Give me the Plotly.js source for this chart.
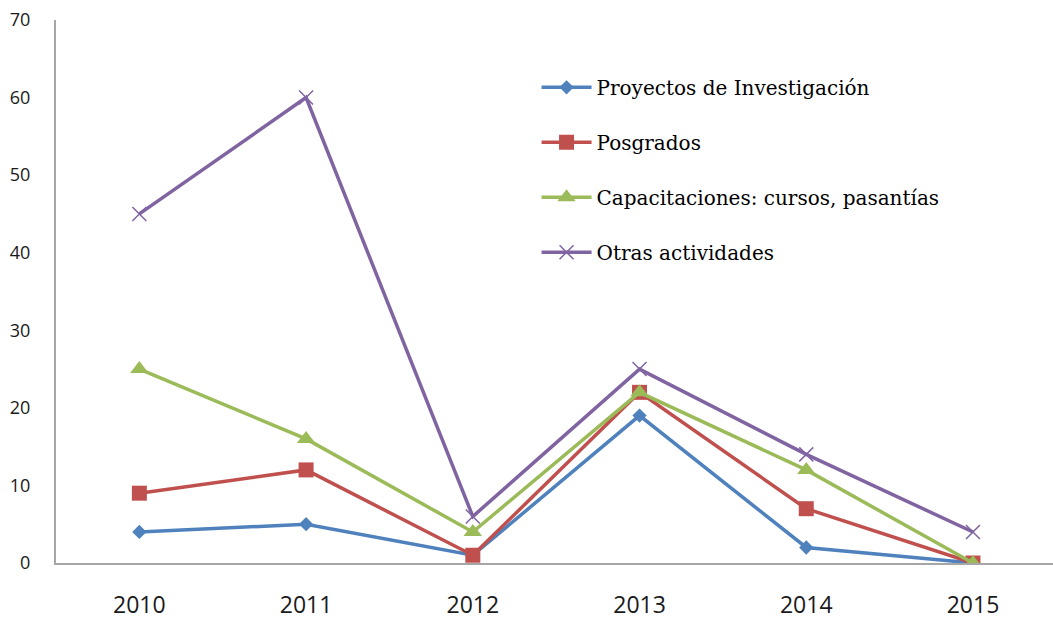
<!DOCTYPE html>
<html><head><meta charset="utf-8">
<script src="https://cdn.plot.ly/plotly-3.0.1.min.js"></script>
<style>html,body{margin:0;padding:0;background:#fff}#chart{width:1053px;height:638px}</style>
</head><body><div id="chart"></div>
<script>
const years = ['2010','2011','2012','2013','2014','2015'];
const proyectos = [4, 5, 1, 19, 2, 0];
const posgrados = [9, 12, 1, 22, 7, 0];
const capacitaciones = [25, 16, 4, 22, 12, 0];
const otras = [45, 60, 6, 25, 14, 4];
const names = ['Proyectos de Investigación','Posgrados','Capacitaciones: cursos, pasantías','Otras actividades'];
const colors = ['#4F81BD','#C0504D','#9BBB59','#8064A2'];
const symbols = ['diamond','square','triangle-up','x-thin-open'];
const sizes = [11, 15, 16, 14];
const series = [proyectos, posgrados, capacitaciones, otras];

const traces = series.map((s, i) => ({
  x: years, y: s, type: 'scatter', mode: 'lines+markers', name: names[i],
  legendgroup: 'g' + i,
  line: {color: colors[i], width: 3.5},
  marker: {symbol: symbols[i], size: sizes[i], color: colors[i], line: {color: colors[i], width: i === 3 ? 1.5 : 0}}
}));

const layout = {
  width: 1053, height: 638,
  margin: {l: 56, r: 0, t: 20, b: 75},
  paper_bgcolor: '#fff', plot_bgcolor: '#fff',
  showlegend: true,
  legend: {x: 0.482, y: 0.912, xanchor: 'left', yanchor: 'top', tracegroupgap: 26, itemwidth: 50,
    font: {family: 'DejaVu Serif', size: 20, color: '#000'}, bgcolor: 'rgba(0,0,0,0)'},
  xaxis: {type: 'category', range: [-0.5, 5.48], showgrid: false, zeroline: false,
    showline: true, linecolor: '#A6A6A6', linewidth: 2, ticks: '',
    tickfont: {family: 'Open Sans', size: 23, color: '#1a1a1a'}, ticklabelstandoff: 20},
  yaxis: {range: [0, 70], dtick: 10, showgrid: false, zeroline: false,
    showline: true, linecolor: '#A6A6A6', linewidth: 2, ticks: '',
    tickfont: {family: 'Open Sans', size: 18, color: '#1a1a1a'}, ticklabelstandoff: 20}
};
Plotly.newPlot('chart', traces, layout, {displayModeBar: false});
</script></body></html>
